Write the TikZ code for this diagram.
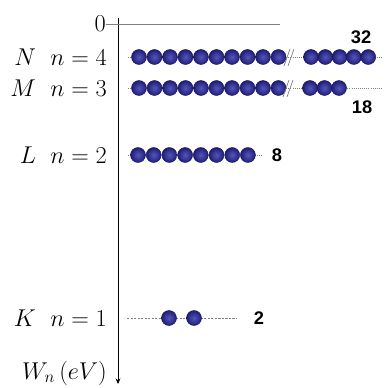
\documentclass[tikz,border=0pt]{standalone}
\usepackage{amsmath}
\usepackage{fontspec}
\newfontfamily\numfont{Liberation Sans}
\usetikzlibrary{calc, positioning, arrows.meta}
\definecolor{electron}{RGB}{30,30,120}
\definecolor{glow}{RGB}{85,85,185}

\begin{document}
\begin{tikzpicture}[x=0.025cm, y=-0.025cm,
            elec/.style={circle, inner sep=0pt, minimum size=0.375cm,
                         inner color=glow, outer color=electron,
                         draw=electron!70!black, line width=0.3pt},
            lvl/.style={gray, densely dotted, line width=0.5pt},
            brk/.style={gray, line width=0.5pt},
            lbl/.style={anchor=east, inner sep=0pt, font=\fontsize{17}{20}\selectfont},
            num/.style={inner sep=0pt, font=\fontsize{13}{15}\numfont\bfseries}
        ]
        \useasboundingbox (0,0) rectangle (384,388);

        % energy axis and zero level
        \coordinate (top) at (118,18);
        \coordinate (bot) at (118,384);
        \draw[line width=0.6pt, -{Stealth[length=4pt, width=3.5pt]}] (top) -- (bot);
        \node[lbl] (zero) at (106,24) {$0$};
        \draw[gray, line width=0.5pt] (zero.east) -- (280,24);

        % level names
        \node[lbl] (lN) at (107,57) {$N\ \ n=4$};
        \node[lbl] (lM) at (107,88) {$M\ \ n=3$};
        \node[lbl] (lL) at (107,155) {$L\ \ n=2$};
        \node[lbl] (lK) at (107,318) {$K\ \ n=1$};
        \node[lbl] (lW) at (107,373) {$W_n\,(eV)$};

        % dotted levels
        \coordinate (sN) at (128,57);  \coordinate (eN) at (382,57);
        \coordinate (sM) at (128,88);  \coordinate (eM) at (383,88);
        \coordinate (sL) at (128,155); \coordinate (eL) at (262,155);
        \coordinate (sK) at (127,318); \coordinate (eK) at (237,318);
        \draw[lvl] (sN) -- (eN);
        \draw[lvl] (sM) -- (eM);
        \draw[lvl] (sL) -- (eL);
        \draw[lvl, dash pattern=on 1.5pt off 1pt] (sK) -- (eK);

        % N shell: 32 electrons
        \foreach \i in {1,...,10}
            \node[elec] (N\i) at ({139+15.5*(\i-1)},57) {};
        \foreach \i in {1,...,5}
            \node[elec] (Nb\i) at ({311+14.3*(\i-1)},57) {};
        \draw[brk] (284,66) -- (290,49) (288,66) -- (294,49);
        \node[num] (cN) at (361,37) {32};

        % M shell: 18 electrons
        \foreach \i in {1,...,10}
            \node[elec] (M\i) at ({139+15.5*(\i-1)},88) {};
        \foreach \i in {1,...,3}
            \node[elec] (Mb\i) at ({310+14.5*(\i-1)},88) {};
        \draw[brk] (283,97) -- (289,80) (287,97) -- (293,80);
        \node[num] (cM) at (362,107) {18};

        % L shell: 8 electrons
        \foreach \i in {1,...,8}
            \node[elec] (L\i) at ({138+15.7*(\i-1)},155) {};
        \node[num] (cL) at (277,155) {8};

        % K shell: 2 electrons
        \node[elec] (K1) at (169,318) {};
        \node[elec] (K2) at (194,318) {};
        \node[num] (cK) at (259,318) {2};
        \end{tikzpicture}
\end{document}
